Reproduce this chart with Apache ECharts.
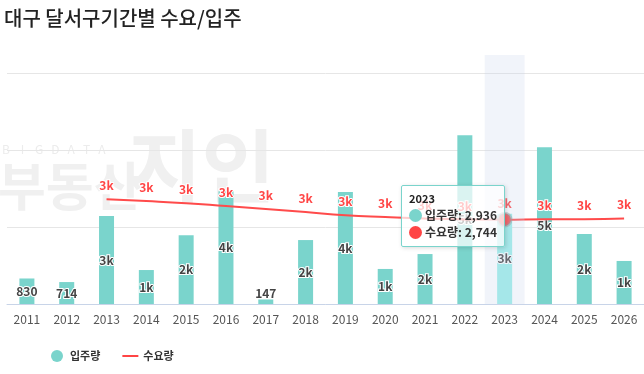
<!DOCTYPE html>
<html>
<head>
<meta charset="utf-8">
<script src="https://cdn.jsdelivr.net/npm/echarts@6/dist/echarts.min.js"></script>
<style>
html,body{margin:0;padding:0;background:#fff;}
#c{width:644px;height:374px;}
</style>
</head>
<body>
<div id="c"></div>
<script>
var categories = ['2011','2012','2013','2014','2015','2016','2017','2018','2019','2020','2021','2022','2023','2024','2025','2026'];
var supply = [830,714,2860,1105,2240,3670,147,2080,3640,1140,1625,5490,2936,5100,2275,1400];
var demand = [null,null,3410,3350,3280,3185,3090,2990,2890,2830,2780,2750,2744,2760,2760,2785];
var seriesNames = ['입주량','수요량'];
var titleText = '대구 달서구기간별 수요/입주';

var FONT = '"Noto Sans CJK KR","Noto Sans",sans-serif';
var TEAL = '#7ad4cc';
var RED = '#ff4545';

function kfmt(v){
  if (v == null) return '';
  return v >= 1000 ? Math.round(v/1000) + 'k' : String(v);
}
function comma(v){ return v.toString().replace(/\B(?=(\d{3})+(?!\d))/g, ','); }

var chart = echarts.init(document.getElementById('c'));
chart.setOption({
  animation: false,
  textStyle: {fontFamily: FONT},
  title: {
    text: titleText, left: 4, top: 8, padding: 0,
    textStyle: {fontFamily: FONT, fontSize: 20, fontWeight: 500, color: '#222'}
  },
  graphic: [
    {type:'text', left: 2, top: 143, z: -1, style:{text:'B    I    G   D   A   T   A', fontSize: 12, fill:'#ececec', fontFamily: FONT}},
    {type:'text', left: -2, top: 160, z: -1, style:{text:'부동산', fontSize: 52, fontWeight:'bold', fill:'#f0f0f0', fontFamily: FONT}},
    {type:'text', left: 128, top: 126, z: -1, style:{text:'지인', fontSize: 80, fontWeight:'bold', fill:'#f0f0f0', fontFamily: FONT}}
  ],
  legend: {
    left: 46, top: 345, itemGap: 22, itemWidth: 16, itemHeight: 12,
    textStyle: {fontFamily: FONT, fontSize: 11, fontWeight: 'bold', color: '#333'},
    data: [
      {name: seriesNames[0], icon: 'circle', itemStyle: {color: TEAL}},
      {name: seriesNames[1], icon: 'path://M0,0h16v2h-16z', itemStyle: {color: RED, borderWidth: 0}}
    ]
  },
  tooltip: {
    trigger: 'axis',
    axisPointer: {type: 'shadow', shadowStyle: {color: 'rgba(200,212,235,0.25)'}},
    position: [401, 185],
    backgroundColor: 'rgba(255,255,255,0.72)',
    borderColor: TEAL, borderWidth: 1, padding: [5, 7, 6, 7],
    extraCssText: 'box-shadow:1px 1px 4px rgba(0,0,0,0.15);border-radius:2px;',
    formatter: function(ps){
      var h = '<div style="font-family:' + FONT.replace(/"/g,"'") + ';">';
      h += '<div style="font-size:11px;font-weight:bold;line-height:14px;color:#222;margin-bottom:1px">' + ps[0].axisValue + '</div>';
      ps.forEach(function(p){
        var col = p.seriesIndex === 0 ? TEAL : RED;
        h += '<div style="font-size:12px;font-weight:bold;line-height:17px;color:#333;white-space:nowrap">' +
          '<span style="display:inline-block;width:13px;height:13px;border-radius:7px;background:' + col + ';margin-right:3px;vertical-align:-2px"></span>' +
          p.seriesName + ': ' + comma(p.value) + '</div>';
      });
      return h + '</div>';
    }
  },
  grid: {left: 7, width: 640, top: 55, bottom: 70},
  xAxis: {
    type: 'category', data: categories,
    axisLine: {lineStyle: {color: '#c8d4e8'}},
    axisTick: {show: false},
    axisLabel: {color: '#555', fontSize: 12, margin: 9, fontFamily: FONT}
  },
  yAxis: {
    type: 'value', min: 0, max: 8100, interval: 2500,
    axisLabel: {show: false}, axisLine: {show: false}, axisTick: {show: false},
    splitLine: {lineStyle: {color: '#e6e6e6'}, showMaxLine: false}
  },
  series: [
    {
      name: seriesNames[0], type: 'bar', data: supply, barWidth: 15,
      itemStyle: {color: TEAL},
      emphasis: {itemStyle: {color: '#9aeee8'}},
      label: {
        show: true, position: 'inside', formatter: function(p){ return kfmt(p.value); },
        color: '#444', fontSize: 12, fontWeight: 'bold', textBorderColor: '#fff', textBorderWidth: 2, fontFamily: FONT
      },
      labelLayout: function(params){
        if (params.rect.height < 12) {
          return {x: params.rect.x + params.rect.width / 2, y: params.rect.y - 6, align: 'center', verticalAlign: 'middle'};
        }
      }
    },
    {
      name: seriesNames[1], type: 'line', data: demand, smooth: true, showSymbol: true,
      symbol: 'circle', symbolSize: 11, connectNulls: false,
      lineStyle: {color: RED, width: 2},
      itemStyle: {color: 'rgba(0,0,0,0)', borderWidth: 0},
      emphasis: {scale: 1.15, itemStyle: {color: RED, borderColor: 'rgba(140,140,140,0.45)', borderWidth: 3}},
      label: {
        show: true, position: 'top', distance: 2, formatter: function(p){ return kfmt(p.value); },
        color: RED, fontSize: 12, fontWeight: 'bold', textBorderColor: '#fff', textBorderWidth: 2, fontFamily: FONT
      }
    }
  ]
});
chart.dispatchAction({type: 'showTip', seriesIndex: 0, dataIndex: 12});
</script>
</body>
</html>
